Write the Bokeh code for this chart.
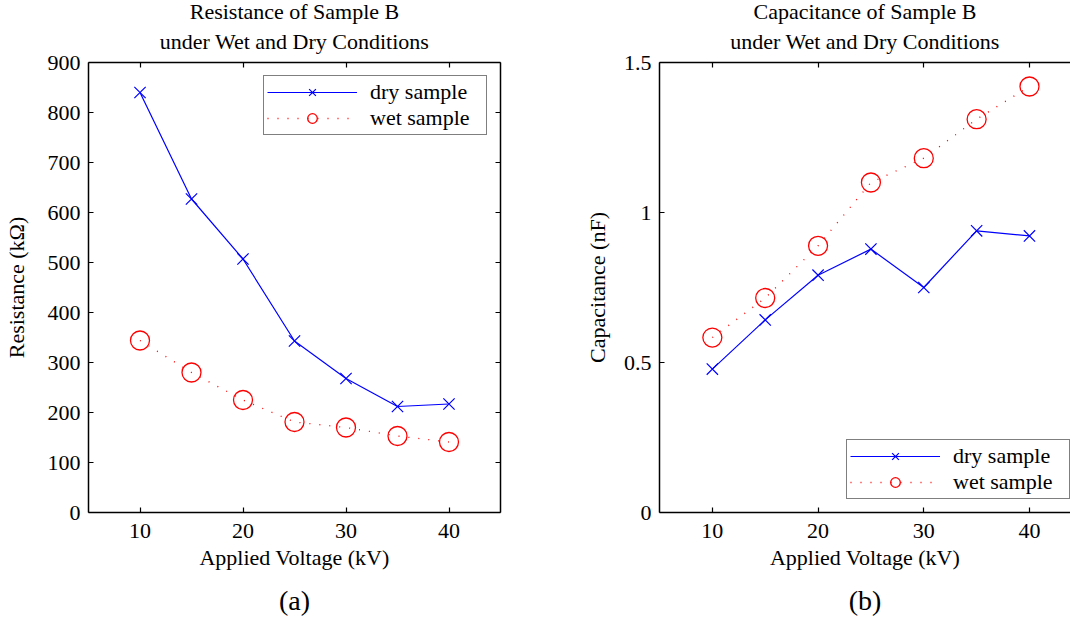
from bokeh.plotting import figure
from bokeh.models import (LinearAxis, FixedTicker, Title, Legend, LegendItem,
                          Range1d, NumeralTickFormatter)
from bokeh.layouts import row
from bokeh.embed import file_html
from bokeh.resources import INLINE

# ---- data ----
voltage = [10, 15, 20, 25, 30, 35, 40]
res_dry = [840, 627, 507, 343, 268, 212, 217]
res_wet = [344, 280, 225, 181, 170, 153, 141]
cap_dry = [0.478, 0.642, 0.791, 0.878, 0.750, 0.939, 0.922]
cap_wet = [0.583, 0.715, 0.889, 1.100, 1.181, 1.311, 1.420]
x_ticks = [10, 20, 30, 40]
res_ticks = [0, 100, 200, 300, 400, 500, 600, 700, 800, 900]
cap_ticks = [0, 0.5, 1, 1.5]
series_labels = ["dry sample", "wet sample"]

FONT = "'Liberation Serif', 'Times New Roman', serif"
FS = "22px"


def style_axis(ax, ticks, labels=True):
    ax.ticker = FixedTicker(ticks=ticks)
    ax.minor_tick_line_color = None
    ax.major_tick_in = 5
    ax.major_tick_out = 0
    ax.axis_line_width = 1.5
    ax.axis_line_color = "black"
    ax.major_tick_line_width = 1.2
    ax.major_tick_line_color = "black"
    ax.major_label_text_font = FONT
    ax.major_label_text_color = "black"
    ax.axis_label_text_font = FONT
    ax.axis_label_text_font_style = "normal"
    ax.axis_label_text_font_size = FS
    ax.axis_label_text_color = "black"
    if labels:
        ax.major_label_text_font_size = FS
        ax.major_label_standoff = 8
    else:
        ax.major_label_text_font_size = "1px"
        ax.major_label_standoff = 0
        ax.major_label_overrides = {t: "" for t in ticks}


def add_title(p, text, where, offset, standoff, size=FS):
    p.add_layout(Title(text=text, align="center", text_font=FONT,
                       text_font_size=size, text_font_style="normal",
                       text_color="black", offset=offset, standoff=standoff),
                 where)


def make_panel(x_end, y_end, yticks, dry, wet, title, ylabel, sub, mb_left,
               mb_right, legend_loc, sub_offset, title_offset, right_axis,
               ylab_standoff):
    p = figure(width=535, height=626, x_range=Range1d(5, x_end),
               y_range=Range1d(0, y_end), output_backend="svg",
               toolbar_location=None, min_border_left=mb_left,
               min_border_right=mb_right, min_border_top=62,
               min_border_bottom=114)
    p.outline_line_color = None
    p.xgrid.grid_line_color = None
    p.ygrid.grid_line_color = None
    p.background_fill_color = "white"
    p.border_fill_color = "white"

    style_axis(p.xaxis[0], x_ticks)
    p.xaxis[0].major_label_standoff = 11
    style_axis(p.yaxis[0], yticks)
    p.xaxis[0].axis_label = None
    p.yaxis[0].axis_label = ylabel
    p.yaxis[0].axis_label_standoff = ylab_standoff
    if yticks == cap_ticks:
        p.yaxis[0].formatter = NumeralTickFormatter(format="0.[0]")

    top = LinearAxis()
    style_axis(top, x_ticks, labels=False)
    p.add_layout(top, "above")
    if right_axis:
        rt = LinearAxis()
        style_axis(rt, yticks, labels=False)
        p.add_layout(rt, "right")

    # two-line title, each line centred separately (line 2 is nearer the frame)
    add_title(p, title[1], "above", title_offset, 18)
    add_title(p, title[0], "above", title_offset, -12)
    add_title(p, "Applied Voltage (kV)", "below", title_offset, 4)
    add_title(p, sub, "below", sub_offset, 22, size="28px")

    l1 = p.line(voltage, dry, line_color="blue", line_width=1.2)
    m1 = p.scatter(voltage, dry, marker="x", size=16, line_color="blue",
                   line_width=1.2)
    l2 = p.line(voltage, wet, line_color="red", line_width=1.3,
                line_dash="1 9")
    m2 = p.scatter(voltage, wet, marker="circle", size=19, fill_color=None,
                   line_color="red", line_width=1.3)

    leg = Legend(items=[LegendItem(label=series_labels[0], renderers=[l1, m1]),
                        LegendItem(label=series_labels[1], renderers=[l2, m2])],
                 location=legend_loc)
    leg.margin = 13
    leg.padding = 3
    leg.spacing = 0
    leg.glyph_width = 90
    leg.glyph_height = 24
    leg.label_height = 24
    leg.label_width = 113
    leg.label_standoff = 13
    leg.label_text_font = FONT
    leg.label_text_font_size = FS
    leg.label_text_color = "black"
    leg.border_line_color = "black"
    leg.border_line_width = 1.5
    leg.background_fill_color = "white"
    leg.background_fill_alpha = 1
    p.add_layout(leg)
    return p


p1 = make_panel(45, 900, res_ticks, res_dry, res_wet,
                ("Resistance of Sample B", "under Wet and Dry Conditions"),
                "Resistance (k\u03a9)", "(a)", 87, 35, "top_right", -33, 0,
                True, 16)
p2 = make_panel(43.88, 1.5, cap_ticks, cap_dry, cap_wet,
                ("Capacitance of Sample B", "under Wet and Dry Conditions"),
                "Capacitance (nF)", "(b)", 124, 0, (187, 13), -21, 5, False,
                11)

layout = row(p1, p2)
open("out.html", "w").write(file_html(layout, INLINE))
